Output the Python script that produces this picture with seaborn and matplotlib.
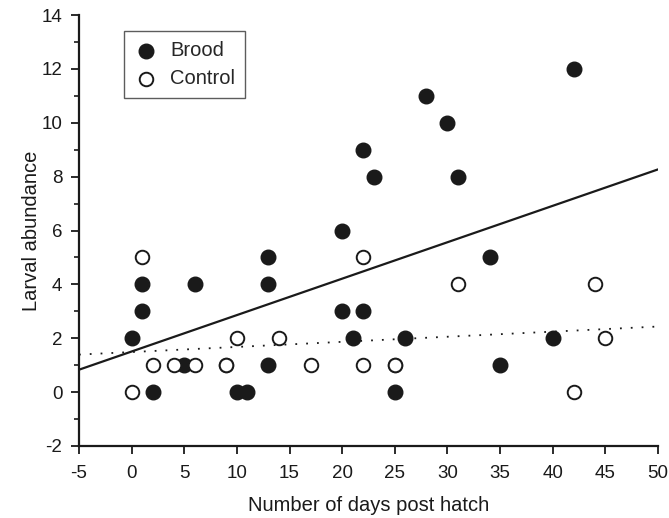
import numpy as np
import pandas as pd
import matplotlib
matplotlib.use('Agg')
import matplotlib.pyplot as plt
from matplotlib.ticker import MultipleLocator
import seaborn as sns

# values
brood_days = [0, 1, 1, 2, 5, 6, 10, 11, 13, 13, 13, 20, 20, 21, 22, 22, 23,
              25, 26, 28, 30, 31, 34, 35, 40, 42]
brood_larvae = [2, 3, 4, 0, 1, 4, 0, 0, 1, 4, 5, 3, 6, 2, 3, 9, 8,
                0, 2, 11, 10, 8, 5, 1, 2, 12]
control_days = [0, 1, 2, 4, 6, 9, 9, 10, 14, 17, 22, 22, 25, 25, 31, 42, 44, 45]
control_larvae = [0, 5, 1, 1, 1, 1, 1, 2, 2, 1, 1, 5, 1, 1, 4, 0, 4, 2]

x_ticks = list(range(-5, 51, 5))
y_ticks = list(range(-2, 15, 2))

brood = pd.DataFrame({'days': brood_days, 'larvae': brood_larvae})
control = pd.DataFrame({'days': control_days, 'larvae': control_larvae})

sns.set_style('ticks')
plt.rcParams['font.family'] = ['Liberation Sans', 'DejaVu Sans']
plt.rcParams['axes.unicode_minus'] = False

fig = plt.figure(figsize=(6.69, 5.18), dpi=100)
ax = fig.add_axes([0.118, 0.139, 0.8656, 0.832])
ax.set_xlim(-5, 50)
ax.set_ylim(-2, 14)

# fitted lines, extended over the whole x range
sns.regplot(data=brood, x='days', y='larvae', ax=ax, scatter=False, ci=None,
            truncate=False, line_kws={'color': '#1a1a1a', 'lw': 1.6, 'zorder': 2})
sns.regplot(data=control, x='days', y='larvae', ax=ax, scatter=False, ci=None,
            truncate=False, line_kws={'color': '#1a1a1a', 'lw': 1.3,
                                      'linestyle': (0, (1, 5)), 'zorder': 2})

sns.scatterplot(data=brood, x='days', y='larvae', ax=ax, s=110, color='#1a1a1a',
                edgecolor='#1a1a1a', linewidth=1.0, label='Brood', zorder=3)
sns.scatterplot(data=control, x='days', y='larvae', ax=ax, s=95, color='white',
                edgecolor='#1a1a1a', linewidth=1.4, label='Control', zorder=3)

ax.set_xlim(-5, 50)
ax.set_ylim(-2, 14)
ax.set_xticks(x_ticks)
ax.set_yticks(y_ticks)
ax.yaxis.set_minor_locator(MultipleLocator(1))
ax.tick_params(axis='both', which='major', direction='out', length=6, width=1.3,
               labelsize=13.5, colors='#1a1a1a', pad=6)
ax.tick_params(axis='x', which='major', pad=8)
ax.tick_params(axis='y', which='minor', direction='out', length=3.5, width=1.2,
               colors='#1a1a1a')
ax.set_xlabel('Number of days post hatch', fontsize=14.5, color='#1a1a1a', labelpad=10)
ax.set_ylabel('Larval abundance', fontsize=14.5, color='#1a1a1a', labelpad=0)

sns.despine(ax=ax)
for side in ['left', 'bottom']:
    ax.spines[side].set_linewidth(1.6)
    ax.spines[side].set_color('#1a1a1a')

leg = ax.legend(loc='upper left', bbox_to_anchor=(0.078, 0.963), fontsize=14.5,
                frameon=True, fancybox=False, borderpad=0.5, handletextpad=0.6,
                labelspacing=0.45, handlelength=1.2, borderaxespad=0)
leg.get_frame().set_edgecolor('#333333')
leg.get_frame().set_linewidth(1.0)

fig.savefig('out.png', dpi=100)
